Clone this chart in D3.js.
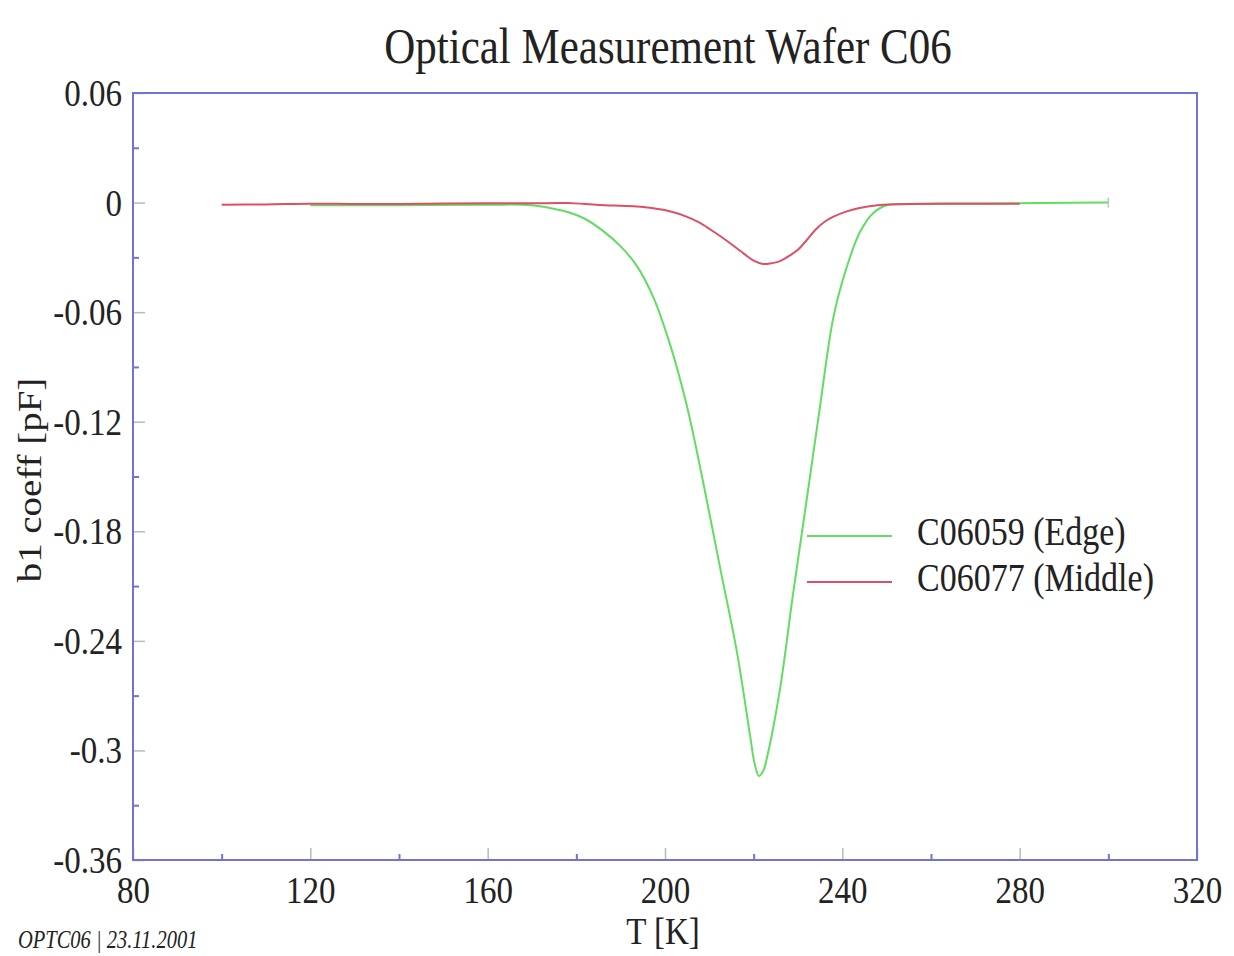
<!DOCTYPE html>
<html>
<head>
<meta charset="utf-8">
<script src="https://cdn.jsdelivr.net/npm/d3@7"></script>
<style>
  body { margin: 0; background: #fff; }
  svg { display: block; }
  text { font-family: "Liberation Serif", "Times New Roman", serif; fill: #222; }
</style>
</head>
<body>
<div id="app"></div>
<script>
// C06059 (edge) measurement: temperature [K] and b1 coefficient [pF]
const edgeT = [120, 140, 160, 170, 177, 182, 186, 190, 193.6, 197.4, 201.1, 204.9, 208.6, 212.4, 216.2, 219.2, 220.2, 221.2, 222.2, 222.9, 225.9, 228.9, 232, 235, 238, 241, 244, 247, 250, 255, 270, 285, 300];
const edgeB = [-0.0015, -0.0015, -0.0012, -0.0015, -0.0045, -0.009, -0.0155, -0.024, -0.0345, -0.052, -0.0774, -0.111, -0.153, -0.1996, -0.2458, -0.292, -0.307, -0.314, -0.311, -0.305, -0.267, -0.214, -0.162, -0.111, -0.0627, -0.0353, -0.016, -0.0057, -0.0015, -0.0008, -0.0005, -0.0002, 0];

// C06077 (middle) measurement
const middleT = [100, 110, 120, 130, 140, 150, 160, 170, 178, 185, 193, 197, 201.5, 205, 208, 211, 213.7, 217.7, 220, 222.1, 224, 225.8, 228, 229.9, 232, 233.9, 236, 238, 241, 243.6, 248.5, 255, 265, 280];
const middleB = [-0.0012, -0.001, -0.0006, -0.0008, -0.0008, -0.0005, -0.0004, -0.0004, -0.0003, -0.0013, -0.002, -0.003, -0.005, -0.0078, -0.0113, -0.016, -0.0205, -0.0278, -0.0318, -0.0336, -0.0332, -0.0322, -0.0292, -0.026, -0.0205, -0.015, -0.0105, -0.0077, -0.0048, -0.0031, -0.0013, -0.0008, -0.0007, -0.0007];

const xTicks = [80, 120, 160, 200, 240, 280, 320];
const xMinor = [100, 140, 180, 220, 260, 300];
const yTicks = [0.06, 0, -0.06, -0.12, -0.18, -0.24, -0.3, -0.36];
const yMinor = [0.03, -0.03, -0.09, -0.15, -0.21, -0.27, -0.33];

const seriesNames = ["C06059 (Edge)", "C06077 (Middle)"];
const seriesColors = ["#62dc62", "#dc5066"];

const width = 1234, height = 956;
const margin = { left: 133, right: 37, top: 93, bottom: 96 };
const stretch = 1.18; // glyphs are drawn a little taller than wide
const axisColor = "#7373d3";

const svg = d3.select("#app").append("svg")
  .attr("width", width)
  .attr("height", height);

const x = d3.scaleLinear().domain([80, 320]).range([margin.left, width - margin.right]);
const y = d3.scaleLinear().domain([-0.36, 0.06]).range([height - margin.bottom, margin.top]);

// title
svg.append("text")
  .attr("transform", `translate(${(x.range()[0] + x.range()[1]) / 2 + 3},63) scale(1,${stretch})`)
  .attr("text-anchor", "middle")
  .attr("font-size", 43)
  .text("Optical Measurement Wafer C06");

// minor ticks (short, blue)
svg.append("g")
  .attr("transform", `translate(${margin.left},0)`)
  .call(d3.axisLeft(y).tickValues(yMinor).tickSize(-6).tickSizeOuter(0).tickFormat(""))
  .call(g => g.select(".domain").remove())
  .call(g => g.selectAll("line").attr("stroke", axisColor).attr("stroke-width", 2));
svg.append("g")
  .attr("transform", `translate(0,${y.range()[0]})`)
  .call(d3.axisBottom(x).tickValues(xMinor).tickSize(-6).tickSizeOuter(0).tickFormat(""))
  .call(g => g.select(".domain").remove())
  .call(g => g.selectAll("line").attr("stroke", axisColor).attr("stroke-width", 2));

// major ticks with labels
const yAxis = svg.append("g")
  .attr("transform", `translate(${margin.left},0)`)
  .call(d3.axisLeft(y).tickValues(yTicks).tickSize(-12).tickSizeOuter(0).tickPadding(11)
    .tickFormat(d => d === 0 ? "0" : String(+d.toFixed(2))));
yAxis.select(".domain").remove();
yAxis.selectAll("line").attr("stroke", "#b4bcbc").attr("stroke-width", 1.5);
yAxis.selectAll("text")
  .attr("font-size", 33)
  .attr("font-family", "Liberation Serif")
  .attr("fill", "#222")
  .attr("transform", `scale(1,${stretch})`);

const xAxis = svg.append("g")
  .attr("transform", `translate(0,${y.range()[0]})`)
  .call(d3.axisBottom(x).tickValues(xTicks).tickSize(-12).tickSizeOuter(0).tickPadding(13));
xAxis.select(".domain").remove();
xAxis.selectAll("line").attr("stroke", "#b4bcbc").attr("stroke-width", 1.5);
xAxis.selectAll("text")
  .attr("font-size", 33)
  .attr("font-family", "Liberation Serif")
  .attr("fill", "#222")
  .attr("transform", `scale(1,${stretch})`);

// plot frame
svg.append("rect")
  .attr("x", x.range()[0])
  .attr("y", y.range()[1])
  .attr("width", x.range()[1] - x.range()[0])
  .attr("height", y.range()[0] - y.range()[1])
  .attr("fill", "none")
  .attr("stroke", axisColor)
  .attr("stroke-width", 2);

// axis titles
svg.append("text")
  .attr("transform", `translate(${(x.range()[0] + x.range()[1]) / 2 - 2},944) scale(1,${stretch})`)
  .attr("text-anchor", "middle")
  .attr("font-size", 33)
  .text("T [K]");
svg.append("text")
  .attr("transform", `translate(41,480) scale(1,${stretch}) rotate(-90)`)
  .attr("text-anchor", "middle")
  .attr("font-size", 33)
  .text("b1 coeff [pF]");

// curves
const line = d3.line()
  .x(d => x(d[0]))
  .y(d => y(d[1]))
  .curve(d3.curveCatmullRom.alpha(0.5));

const series = [
  d3.zip(edgeT, edgeB),
  d3.zip(middleT, middleB)
];

svg.append("g")
  .selectAll("path")
  .data(series)
  .join("path")
  .attr("d", line)
  .attr("fill", "none")
  .attr("stroke", (d, i) => seriesColors[i])
  .attr("stroke-width", 2);

// end marker on the edge curve
svg.append("line")
  .attr("x1", x(edgeT[edgeT.length - 1])).attr("x2", x(edgeT[edgeT.length - 1]))
  .attr("y1", y(edgeB[edgeB.length - 1]) - 5).attr("y2", y(edgeB[edgeB.length - 1]) + 5)
  .attr("stroke", "#b8c8b8")
  .attr("stroke-width", 1.5);

// legend
const legend = svg.append("g").attr("class", "legend");
seriesNames.forEach((name, i) => {
  const ly = 536 + i * 46;
  legend.append("line")
    .attr("x1", 807).attr("x2", 892)
    .attr("y1", ly).attr("y2", ly)
    .attr("stroke", seriesColors[i])
    .attr("stroke-width", 2);
  legend.append("text")
    .attr("transform", `translate(917,${ly + 9}) scale(1,${stretch})`)
    .attr("font-size", 34)
    .text(name);
});

// footer stamp
svg.append("text")
  .attr("transform", `translate(18,948) scale(1,${stretch})`)
  .attr("font-size", 20.5)
  .attr("font-style", "italic")
  .attr("fill", "#444")
  .text("OPTC06 | 23.11.2001");
</script>
</body>
</html>
